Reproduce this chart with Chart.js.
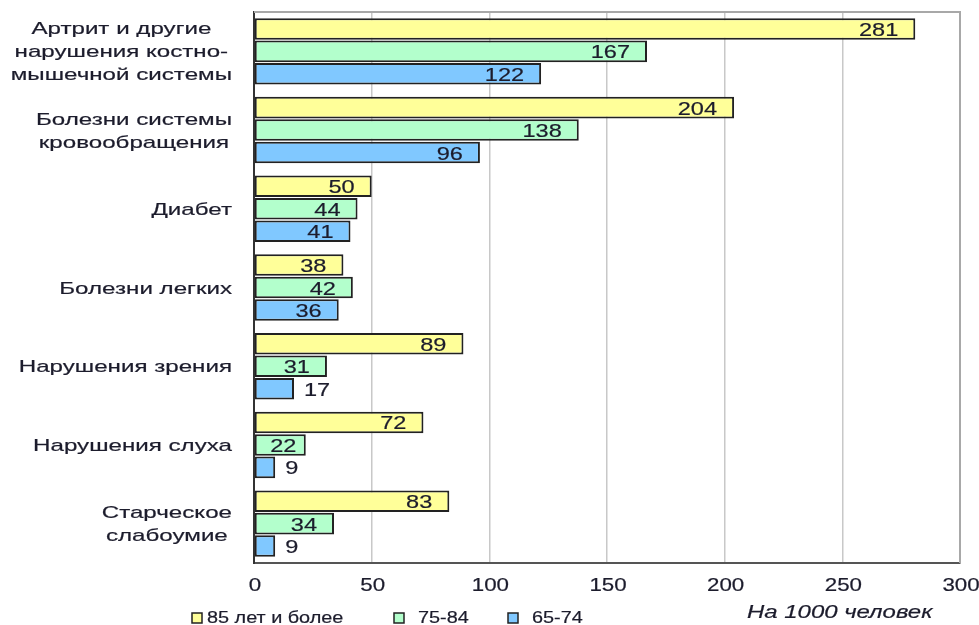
<!DOCTYPE html>
<html>
<head>
<meta charset="utf-8">
<script src="https://cdn.jsdelivr.net/npm/chart.js@4/dist/chart.umd.min.js"></script>
<style>
  html, body { margin: 0; padding: 0; background: #ffffff; }
  #wrap { width: 979px; height: 625px; position: relative; }
</style>
</head>
<body>
<div id="wrap"><canvas id="chart"></canvas></div>
<script>
const categories = [
    ['Артрит и другие', 'нарушения костно-', 'мышечной системы'],
    ['Болезни системы', 'кровообращения'],
    'Диабет',
    'Болезни легких',
    'Нарушения зрения',
    'Нарушения слуха',
    ['Старческое', 'слабоумие']
];
const seriesNames = ['85 лет и более', '75-84', '65-74'];
const age85plus = [281, 204, 50, 38, 89, 72, 83];
const age75to84 = [167, 138, 44, 42, 31, 22, 34];
const age65to74 = [122, 96, 41, 36, 17, 9, 9];
const xTicks = [0, 50, 100, 150, 200, 250, 300];
const unitLabel = 'На 1000 человек';

const FONT = '"Liberation Sans", Arial, sans-serif';
const TEXT = '#1c1c2c';
const colors = ['#FFFF99', '#B3FFCC', '#80C8FF'];

// the original picture is stretched sideways, so text is drawn wider than it is tall
function wideText(ctx, text, x, y, sx, align) {
    ctx.save();
    ctx.translate(x, y);
    ctx.scale(sx, 1);
    ctx.textAlign = align;
    ctx.strokeStyle = ctx.fillStyle;
    ctx.lineWidth = 0.2;
    ctx.fillText(text, 0, 0);
    ctx.strokeText(text, 0, 0);
    ctx.restore();
}

const barLabels = {
    id: 'barLabels',
    afterDatasetsDraw(chart) {
        const ctx = chart.ctx;
        const sx = 1.24;
        ctx.save();
        ctx.font = '19px ' + FONT;
        ctx.fillStyle = TEXT;
        ctx.textBaseline = 'alphabetic';
        chart.data.datasets.forEach((ds, di) => {
            chart.getDatasetMeta(di).data.forEach((bar, i) => {
                const text = String(ds.data[i]);
                const tw = ctx.measureText(text).width * sx;
                const bw = bar.x - bar.base;
                const y = bar.y + 7;
                if (bw >= tw + 22) {
                    const gap = Math.min(17, (bw - tw) / 2 - 3);
                    wideText(ctx, text, bar.x - gap, y, sx, 'right');
                } else {
                    wideText(ctx, text, bar.x + 10, y, sx, 'left');
                }
            });
        });
        ctx.restore();
    }
};

const axisText = {
    id: 'axisText',
    afterDraw(chart) {
        const ctx = chart.ctx;
        const xs = chart.scales.x;
        const ys = chart.scales.y;
        ctx.save();
        ctx.fillStyle = TEXT;
        ctx.textBaseline = 'alphabetic';

        // x tick labels
        ctx.font = '18px ' + FONT;
        xTicks.forEach(v => {
            wideText(ctx, String(v), xs.getPixelForValue(v) + 1, 591, 1.24, 'center');
        });

        // category labels: block right-aligned, lines centred inside the block
        ctx.font = '17px ' + FONT;
        const sy = 1.42;
        categories.forEach((lab, i) => {
            const lines = Array.isArray(lab) ? lab : [lab];
            const cy = ys.getPixelForValue(i);
            const maxW = Math.max(...lines.map(l => ctx.measureText(l).width)) * sy;
            const cx = ys.right - 22 - maxW / 2;
            lines.forEach((l, k) => {
                const y = cy + (k - (lines.length - 1) / 2) * 23 + 6;
                wideText(ctx, l, cx, y, sy, 'center');
            });
        });

        // legend
        const items = [[192, 207], [394, 418], [508, 532]];
        ctx.font = '16px ' + FONT;
        items.forEach(([bx, tx], i) => {
            ctx.fillStyle = colors[i];
            ctx.fillRect(bx, 613, 10, 10);
            ctx.strokeStyle = '#222';
            ctx.lineWidth = 1.5;
            ctx.strokeRect(bx, 613, 10, 10);
            ctx.fillStyle = TEXT;
            wideText(ctx, seriesNames[i], tx, 623, 1.24, 'left');
        });

        // unit caption
        ctx.font = 'italic 18px ' + FONT;
        wideText(ctx, unitLabel, 747, 618, 1.33, 'left');
        ctx.restore();
    }
};

const frame = {
    id: 'frame',
    beforeDatasetsDraw(chart) {
        const a = chart.chartArea;
        const ctx = chart.ctx;
        ctx.save();
        ctx.strokeStyle = '#a8a8a8';
        ctx.lineWidth = 2;
        ctx.beginPath();
        ctx.moveTo(a.left, a.top);
        ctx.lineTo(a.right, a.top);
        ctx.lineTo(a.right, a.bottom);
        ctx.stroke();
        ctx.restore();
    }
};

new Chart(document.getElementById('chart'), {
    type: 'bar',
    data: {
        labels: categories,
        datasets: [age85plus, age75to84, age65to74].map((d, i) => ({
            label: seriesNames[i],
            data: d,
            backgroundColor: colors[i],
            borderColor: '#222222',
            borderWidth: 2,
            borderSkipped: false,
            barPercentage: 0.96,
            categoryPercentage: 0.855
        }))
    },
    options: {
        indexAxis: 'y',
        responsive: true,
        maintainAspectRatio: false,
        animation: false,
        layout: { padding: { top: 12, right: 19, left: 0, bottom: 0 } },
        plugins: {
            legend: { display: false },
            tooltip: { enabled: false }
        },
        scales: {
            x: {
                min: 0,
                max: 300,
                afterBuildTicks(scale) {
                    scale.ticks = xTicks.map(v => ({ value: v }));
                },
                afterFit(scale) {
                    scale.height = 62;
                    scale.paddingLeft = 0;
                    scale.paddingRight = 0;
                },
                grid: { color: '#c8c8c8', lineWidth: 1.5, drawTicks: false },
                border: { color: '#555555', width: 2 },
                ticks: { display: false }
            },
            y: {
                afterFit(scale) {
                    scale.width = 254;
                    scale.paddingTop = 0;
                    scale.paddingBottom = 0;
                },
                grid: { display: false, drawTicks: false },
                border: { color: '#333333', width: 2 },
                ticks: { display: false }
            }
        }
    },
    plugins: [frame, barLabels, axisText]
});
</script>
</body>
</html>
